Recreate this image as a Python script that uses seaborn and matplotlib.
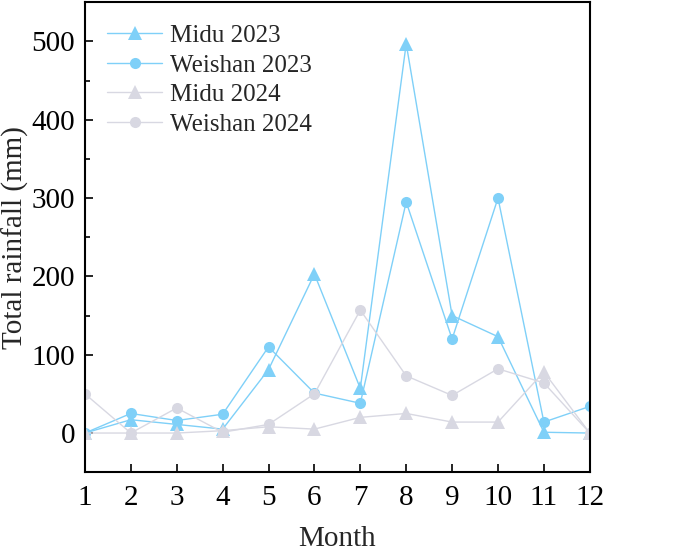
import matplotlib
matplotlib.use("Agg")
import matplotlib.pyplot as plt
import seaborn as sns
import pandas as pd
from matplotlib.ticker import MultipleLocator

months = list(range(1, 13))
midu_2023 = [0, 17, 11, 5, 81, 203, 57, 497, 150, 123, 1, 0]
weishan_2023 = [0, 25, 16, 24, 110, 51, 38, 295, 120, 300, 14, 34]
midu_2024 = [0, 0, 0, 3, 8, 5, 20, 25, 14, 14, 78, 0]
weishan_2024 = [50, 0, 32, 1, 11, 50, 157, 73, 48, 82, 64, 0]

series = [
    ("Midu 2023", midu_2023, "#7FD0F8", "^"),
    ("Weishan 2023", weishan_2023, "#7FD0F8", "o"),
    ("Midu 2024", midu_2024, "#D8D8E2", "^"),
    ("Weishan 2024", weishan_2024, "#D8D8E2", "o"),
]

sns.set_theme(style="ticks")
plt.rcParams['font.family'] = ['Liberation Serif', 'DejaVu Serif']
plt.rcParams['mathtext.fontset'] = 'stix'

fig = plt.figure(figsize=(6.85, 5.51), dpi=100)
ax = fig.add_axes([0.124, 0.143, 0.737, 0.853])

for name, vals, col, mk in series:
    df = pd.DataFrame({"Month": months, "Rain": vals})
    sns.lineplot(data=df, x="Month", y="Rain", ax=ax, color=col, marker=mk,
                 markersize=9.5 if mk == "^" else 8, markeredgewidth=0,
                 linewidth=1.0, label=name)

ax.set_xlim(1, 12)
ax.set_ylim(-50, 550)
ax.set_xticks(months)
ax.yaxis.set_major_locator(MultipleLocator(100))
ax.yaxis.set_minor_locator(MultipleLocator(50))
ax.tick_params(axis='both', which='both', direction='in', labelsize=21, colors='black',
               width=1.2)
ax.tick_params(axis='both', which='major', length=6)
ax.tick_params(axis='y', which='minor', length=3.5)
ax.tick_params(axis='x', pad=9)
ax.tick_params(axis='y', pad=7)
for s in ax.spines.values():
    s.set_linewidth(1.5)
    s.set_color('black')
ax.set_xlabel("Month", fontsize=21, labelpad=11)
ax.set_ylabel("Total rainfall (mm)", fontsize=21, labelpad=2)

leg = ax.legend(loc='upper left', bbox_to_anchor=(0.0, 1.0), frameon=False,
                fontsize=18, handlelength=2.2, labelspacing=0.28, borderaxespad=0.5,
                handletextpad=0.3)

fig.savefig("out.png", dpi=100)
